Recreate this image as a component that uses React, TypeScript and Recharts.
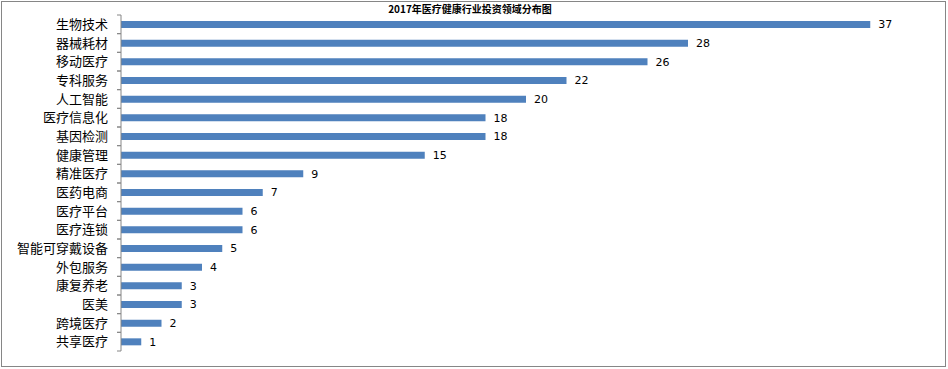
import React from 'react';
import { BarChart, Bar, XAxis, YAxis, LabelList } from 'recharts';

const title = '2017年医疗健康行业投资领域分布图';
const categories = [
  '生物技术', '器械耗材', '移动医疗', '专科服务', '人工智能', '医疗信息化',
  '基因检测', '健康管理', '精准医疗', '医药电商', '医疗平台', '医疗连锁',
  '智能可穿戴设备', '外包服务', '康复养老', '医美', '跨境医疗', '共享医疗',
];
const values = [37, 28, 26, 22, 20, 18, 18, 15, 9, 7, 6, 6, 5, 4, 3, 3, 2, 1];

const data = categories.map((name, i) => ({ name, value: values[i] }));

const AXIS_COLOR = '#868686';
const CJK = '"Noto Sans CJK SC", "Noto Sans", sans-serif';

const CategoryTick = (props: any) => {
  const { x, y, payload } = props;
  const off = payload?.offset ?? 0;
  const ax = x + 13;
  return (
    <g>
      <line x1={ax - 4} x2={ax} y1={y - off} y2={y - off} stroke={AXIS_COLOR} />
      <line x1={ax - 4} x2={ax} y1={y + off} y2={y + off} stroke={AXIS_COLOR} />
      <text x={x} y={y} dy="0.36em" textAnchor="end" fontSize={13} fill="#000" fontFamily={CJK}>
        {payload.value}
      </text>
    </g>
  );
};

export default function App() {
  return (
    <div style={{ position: 'fixed', left: 0, top: 0, width: 948, height: 369, background: '#fff' }}>
      <div
        style={{
          position: 'absolute', left: 1, top: 1, width: 945, height: 366,
          border: `1px solid ${AXIS_COLOR}`, boxSizing: 'border-box',
        }}
      />
      <div style={{ position: 'absolute', left: 0, top: 0 }}>
        <BarChart
          width={948}
          height={369}
          layout="vertical"
          data={data}
          margin={{ top: 15, right: 17, bottom: 18, left: 0 }}
        >
          <XAxis type="number" domain={[0, 40]} hide />
          <YAxis
            type="category"
            dataKey="name"
            width={121}
            interval={0}
            axisLine={{ stroke: AXIS_COLOR }}
            tickLine={false}
            tickSize={4}
            tickMargin={9}
            tick={<CategoryTick />}
          />
          <Bar dataKey="value" fill="#4f81bd" barSize={7} isAnimationActive={false}>
            <LabelList
              dataKey="value"
              position="right"
              offset={8}
              fill="#000"
              fontSize={11}
              fontFamily='"DejaVu Sans", sans-serif'
            />
          </Bar>
        </BarChart>
      </div>
      <div
        style={{
          position: 'absolute', left: 0, top: 2, width: 940, textAlign: 'center',
          fontFamily: CJK, fontWeight: 'bold', fontSize: 10, lineHeight: '13px', color: '#000',
        }}
      >
        {title}
      </div>
    </div>
  );
}
